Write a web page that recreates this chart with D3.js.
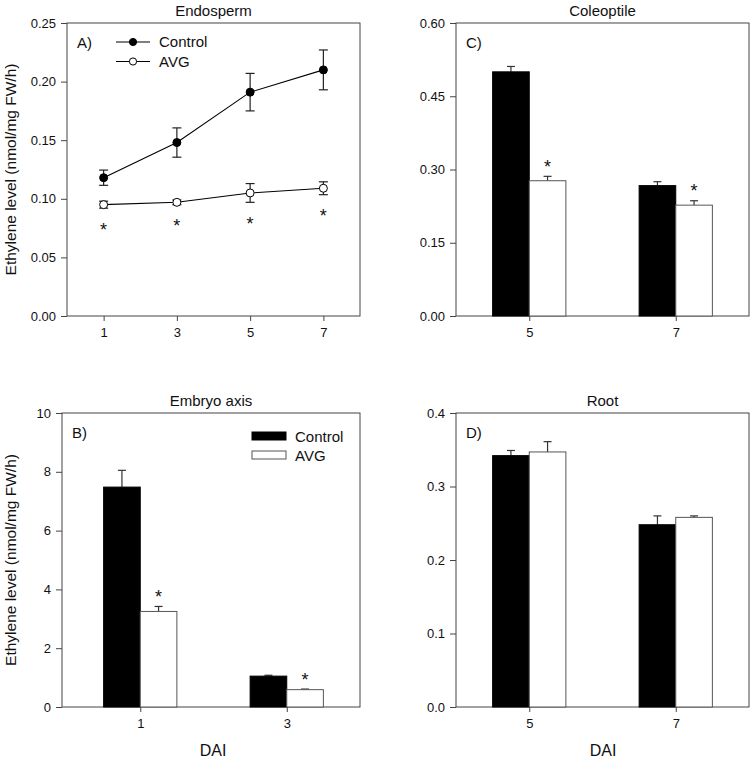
<!DOCTYPE html>
<html><head><meta charset="utf-8">
<script src="https://cdn.jsdelivr.net/npm/d3@7"></script>
<style>
body{margin:0;background:#fff;}
svg text{font-family:"Liberation Sans",Arial,sans-serif;fill:#111;}
</style></head>
<body>
<svg id="c" width="750" height="761"></svg>
<script>
// ---- data ----
const seriesNames = ["Control", "AVG"];
// A) Endosperm (line chart)
const endoDays = [1, 3, 5, 7];
const endoControl = [0.118, 0.148, 0.191, 0.210];
const endoControlErr = [0.0065, 0.0125, 0.016, 0.017];
const endoAVG = [0.095, 0.097, 0.105, 0.109];
const endoAVGErr = [0.003, 0.002, 0.008, 0.0055];
const endoSig = [true, true, true, true];
const endoTicks = [0, 0.05, 0.10, 0.15, 0.20, 0.25];
// B) Embryo axis
const embDays = [1, 3];
const embControl = [7.48, 1.05];
const embControlErr = [0.57, 0.03];
const embAVG = [3.25, 0.59];
const embAVGErr = [0.17, 0.02];
const embSig = [true, true];
const embTicks = [0, 2, 4, 6, 8, 10];
// C) Coleoptile
const colDays = [5, 7];
const colControl = [0.500, 0.267];
const colControlErr = [0.011, 0.008];
const colAVG = [0.277, 0.227];
const colAVGErr = [0.009, 0.009];
const colSig = [true, true];
const colTicks = [0, 0.15, 0.30, 0.45, 0.60];
// D) Root
const rootDays = [5, 7];
const rootControl = [0.342, 0.248];
const rootControlErr = [0.007, 0.012];
const rootAVG = [0.347, 0.258];
const rootAVGErr = [0.014, 0.002];
const rootSig = [false, false];
const rootTicks = [0, 0.1, 0.2, 0.3, 0.4];

const svg = d3.select("#c");
const yLabelText = "Ethylene level (nmol/mg FW/h)";
const frameColor = "#444";

function panel(o) {
  const g = svg.append("g");
  const x = d3.scaleLinear().domain(o.xDomain).range([o.x0, o.x1]);
  const y = d3.scaleLinear().domain(o.yDomain).range([o.y1, o.y0]);
  const fx0 = o.frameX0 !== undefined ? o.frameX0 : o.x0;
  g.append("rect").attr("x", fx0).attr("y", o.y0)
    .attr("width", o.x1 - fx0).attr("height", o.y1 - o.y0)
    .attr("fill", "none").attr("stroke", frameColor).attr("stroke-width", 1);
  const ya = g.append("g").attr("transform", `translate(${fx0},0)`)
    .call(d3.axisLeft(y).tickValues(o.yTicks).tickFormat(d3.format(o.yFmt)).tickSize(6).tickPadding(5));
  const xa = g.append("g").attr("transform", `translate(0,${o.y1})`)
    .call(d3.axisBottom(x).tickValues(o.xTicks).tickFormat(d3.format("d")).tickSize(5).tickPadding(7));
  [ya, xa].forEach(a => {
    a.select(".domain").remove();
    a.selectAll("line").attr("stroke", frameColor);
    a.selectAll("text").style("font-size", "13px").style("font-family", '"Liberation Sans",Arial,sans-serif').attr("fill", "#111");
  });
  g.append("text").attr("x", (fx0 + o.x1) / 2).attr("y", o.y0 - 7).attr("text-anchor", "middle")
    .style("font-size", "15px").text(o.title);
  g.append("text").attr("x", fx0 + 10).attr("y", o.y0 + 25).style("font-size", "15px").text(o.letter);
  return {g, x, y};
}

function star(g, cx, cy) {
  g.append("text").attr("x", cx).attr("y", cy + 10.5).attr("text-anchor", "middle")
    .style("font-size", "18px").text("*");
}

function bars(p, days, ctrl, ctrlErr, avg, avgErr, sig) {
  const {g, x, y} = p;
  const w = x(0.5) - x(0);
  const groups = [
    {vals: ctrl, err: ctrlErr, off: -w, fill: "#000", stroke: "#000"},
    {vals: avg, err: avgErr, off: 0, fill: "#fff", stroke: "#555"}
  ];
  groups.forEach(gr => {
    days.forEach((d, i) => {
      const bx = x(d) + gr.off;
      const cx = bx + w / 2;
      const top = y(gr.vals[i] + gr.err[i]);
      g.append("line").attr("x1", cx).attr("x2", cx).attr("y1", y(gr.vals[i])).attr("y2", top)
        .attr("stroke", "#333").attr("stroke-width", 1.2);
      g.append("line").attr("x1", cx - 4).attr("x2", cx + 4).attr("y1", top).attr("y2", top)
        .attr("stroke", "#333").attr("stroke-width", 1.2);
      g.append("rect").attr("x", bx).attr("y", y(gr.vals[i])).attr("width", w)
        .attr("height", y(0) - y(gr.vals[i])).attr("fill", gr.fill).attr("stroke", gr.stroke).attr("stroke-width", 1);
    });
  });
  days.forEach((d, i) => {
    if (!sig[i]) return;
    star(g, x(d) + w / 2, y(avg[i] + avgErr[i]) - 14);
  });
}

// A
const pA = panel({x0: 67, x1: 360, y0: 23, y1: 316, xDomain: [0, 8], yDomain: [0, 0.25],
  yTicks: endoTicks, yFmt: ".2f", xTicks: endoDays, title: "Endosperm", letter: "A)"});
(function () {
  const {g, x, y} = pA;
  const series = [
    {vals: endoControl, err: endoControlErr, fill: "#000"},
    {vals: endoAVG, err: endoAVGErr, fill: "#fff"}
  ];
  series.forEach(s => {
    const pts = endoDays.map((d, i) => [x(d), y(s.vals[i])]);
    g.append("path").attr("d", d3.line()(pts)).attr("fill", "none").attr("stroke", "#000").attr("stroke-width", 1.1);
    endoDays.forEach((d, i) => {
      const cx = x(d), t = y(s.vals[i] + s.err[i]), b = y(s.vals[i] - s.err[i]);
      g.append("line").attr("x1", cx).attr("x2", cx).attr("y1", t).attr("y2", b).attr("stroke", "#222").attr("stroke-width", 1.2);
      [t, b].forEach(yy => g.append("line").attr("x1", cx - 4.5).attr("x2", cx + 4.5).attr("y1", yy).attr("y2", yy)
        .attr("stroke", "#222").attr("stroke-width", 1.2));
    });
    endoDays.forEach((d, i) => {
      g.append("circle").attr("cx", x(d)).attr("cy", y(s.vals[i])).attr("r", 4)
        .attr("fill", s.fill).attr("stroke", "#000").attr("stroke-width", 1);
    });
  });
  endoDays.forEach((d, i) => {
    if (!endoSig[i]) return;
    star(g, x(d), y(endoAVG[i] - endoAVGErr[i]) + 17);
  });
  const lg = [{name: seriesNames[0], fill: "#000", yy: 42}, {name: seriesNames[1], fill: "#fff", yy: 61.5}];
  lg.forEach(l => {
    g.append("line").attr("x1", 116).attr("x2", 150).attr("y1", l.yy).attr("y2", l.yy).attr("stroke", "#000").attr("stroke-width", 1.1);
    g.append("circle").attr("cx", 133).attr("cy", l.yy).attr("r", 3.6).attr("fill", l.fill).attr("stroke", "#000");
    g.append("text").attr("x", 159).attr("y", l.yy + 5).style("font-size", "15px").text(l.name);
  });
})();

// C
const pC = panel({x0: 456, x1: 749, y0: 23, y1: 316, xDomain: [4, 8], yDomain: [0, 0.6],
  yTicks: colTicks, yFmt: ".2f", xTicks: colDays, title: "Coleoptile", letter: "C)"});
bars(pC, colDays, colControl, colControlErr, colAVG, colAVGErr, colSig);

// B
const pB = panel({x0: 67, frameX0: 62, x1: 360, y0: 413, y1: 707, xDomain: [0, 4], yDomain: [0, 10],
  yTicks: embTicks, yFmt: "d", xTicks: embDays, title: "Embryo axis", letter: "B)"});
bars(pB, embDays, embControl, embControlErr, embAVG, embAVGErr, embSig);
(function () {
  const g = pB.g;
  const lg = [{name: seriesNames[0], fill: "#000", stroke: "#000", yy: 432}, {name: seriesNames[1], fill: "#fff", stroke: "#555", yy: 451}];
  lg.forEach(l => {
    g.append("rect").attr("x", 252).attr("y", l.yy).attr("width", 34).attr("height", 8).attr("fill", l.fill).attr("stroke", l.stroke);
    g.append("text").attr("x", 295).attr("y", l.yy + 9.5).style("font-size", "15px").text(l.name);
  });
})();

// D
const pD = panel({x0: 456, x1: 749, y0: 413, y1: 707, xDomain: [4, 8], yDomain: [0, 0.4],
  yTicks: rootTicks, yFmt: ".1f", xTicks: rootDays, title: "Root", letter: "D)"});
bars(pD, rootDays, rootControl, rootControlErr, rootAVG, rootAVGErr, rootSig);

// axis labels
[169.5, 560].forEach(cy => {
  svg.append("text").attr("transform", `translate(16,${cy}) rotate(-90)`).attr("text-anchor", "middle")
    .style("font-size", "15.5px").text(yLabelText);
});
[213, 603].forEach(cx => {
  svg.append("text").attr("x", cx).attr("y", 756).attr("text-anchor", "middle").style("font-size", "16px").text("DAI");
});
</script>
</body></html>
